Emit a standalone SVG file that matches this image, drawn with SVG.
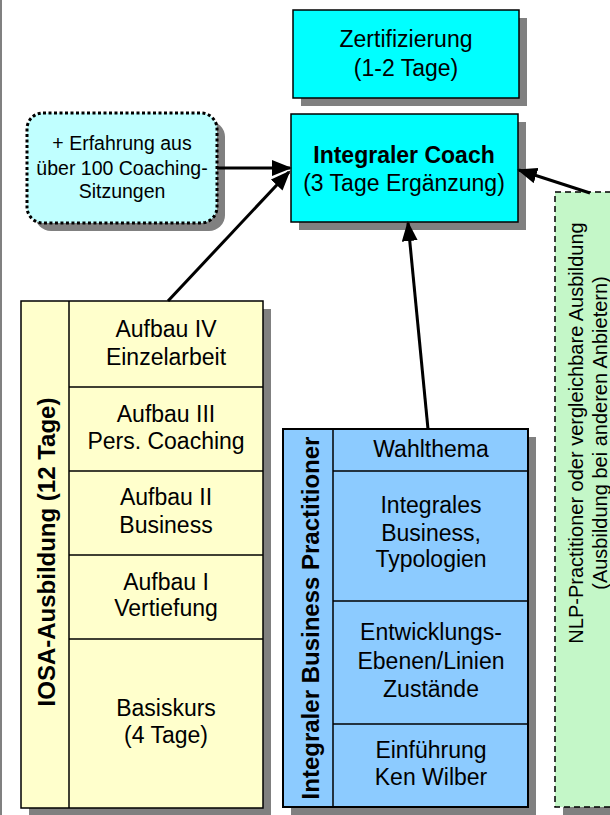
<svg xmlns="http://www.w3.org/2000/svg" width="610" height="815" viewBox="0 0 610 815">
<style>
text{font-family:"Liberation Sans",Arial,sans-serif;font-size:23px;fill:#000;text-anchor:middle}
.b{font-weight:bold}
.v{font-size:24px}
.sm{font-size:19.5px}
.nl{font-size:20px}
.sh{fill:#808080}
.cy{fill:#00FFFF;stroke:#000;stroke-width:1.5}
.ye{fill:#FFFFCC;stroke:#000;stroke-width:1.5}
.bl{fill:#8CCBFF;stroke:#000;stroke-width:2}
.ln{stroke:#000;stroke-width:1.5;fill:none}
.con{stroke:#000;stroke-width:3;fill:none;marker-end:url(#ah)}
</style>
<defs>
<marker id="ah" markerUnits="userSpaceOnUse" markerWidth="20" markerHeight="16" refX="18" refY="8" orient="auto" viewBox="0 0 20 16">
<path d="M0,0 L20,8 L0,16 z" fill="#000"/>
</marker>
</defs>
<rect x="0" y="0" width="610" height="815" fill="#fff"/>
<line x1="1" y1="0" x2="1" y2="815" stroke="#808080" stroke-width="2"/>

<g id="zertifizierung">
<rect class="sh" x="301" y="18" width="226" height="88"/>
<rect class="cy" x="293" y="10" width="226" height="88"/>
<text x="406" y="47">Zertifizierung</text>
<text x="406" y="76">(1-2 Tage)</text>
</g>

<g id="coach">
<rect class="sh" x="299" y="122" width="227" height="108"/>
<rect class="cy" x="291" y="114" width="227" height="108"/>
<text class="b" x="404" y="163">Integraler Coach</text>
<text x="404" y="191">(3 Tage Ergänzung)</text>
</g>

<g id="erfahrung">
<rect class="sh" x="35" y="121" width="190" height="110" rx="16"/>
<rect x="27" y="113" width="190" height="110" rx="16" fill="#C0FFFF" stroke="#000" stroke-width="3" stroke-dasharray="3,2.5"/>
<text class="sm" x="122" y="150">+ Erfahrung aus</text>
<text class="sm" x="122" y="175">über 100 Coaching-</text>
<text class="sm" x="122" y="198">Sitzungen</text>
</g>

<g id="iosa">
<rect class="sh" x="29" y="309" width="242" height="507"/>
<rect class="ye" x="21" y="301" width="242" height="507"/>
<line class="ln" x1="69" y1="301" x2="69" y2="808"/>
<line class="ln" x1="69" y1="387" x2="263" y2="387"/>
<line class="ln" x1="69" y1="471" x2="263" y2="471"/>
<line class="ln" x1="69" y1="555" x2="263" y2="555"/>
<line class="ln" x1="69" y1="639" x2="263" y2="639"/>
<text class="b v" transform="translate(55,552) rotate(-90)">IOSA-Ausbildung (12 Tage)</text>
<text x="166" y="337">Aufbau IV</text>
<text x="166" y="365">Einzelarbeit</text>
<text x="166" y="422">Aufbau III</text>
<text x="166" y="449">Pers. Coaching</text>
<text x="166" y="505">Aufbau II</text>
<text x="166" y="533">Business</text>
<text x="166" y="590">Aufbau I</text>
<text x="166" y="616">Vertiefung</text>
<text x="166" y="716">Basiskurs</text>
<text x="166" y="743">(4 Tage)</text>
</g>

<g id="ibp">
<rect class="sh" x="291" y="437" width="245" height="378"/>
<rect class="bl" x="283" y="429" width="245" height="378"/>
<line class="ln" x1="333" y1="429" x2="333" y2="807"/>
<line class="ln" x1="333" y1="471" x2="528" y2="471"/>
<line class="ln" x1="333" y1="601" x2="528" y2="601" stroke-width="2.5"/>
<line class="ln" x1="333" y1="724" x2="528" y2="724"/>
<text class="b v" transform="translate(319,618) rotate(-90)">Integraler Business Practitioner</text>
<text x="431" y="457">Wahlthema</text>
<text x="431" y="513">Integrales</text>
<text x="431" y="541">Business,</text>
<text x="431" y="567">Typologien</text>
<text x="431" y="640">Entwicklungs-</text>
<text x="431" y="669">Ebenen/Linien</text>
<text x="431" y="697">Zustände</text>
<text x="431" y="758">Einführung</text>
<text x="431" y="785">Ken Wilber</text>
</g>

<g id="nlp">
<rect class="sh" x="563" y="200" width="60" height="620"/>
<rect x="555" y="192" width="70" height="615" fill="#C4F7C8" stroke="#000" stroke-width="1.5" stroke-dasharray="6,4"/>
<text class="nl" transform="translate(583,433) rotate(-90)">NLP-Practitioner oder vergleichbare Ausbildung</text>
<text class="nl" transform="translate(607,433) rotate(-90)">(Ausbildung bei anderen Anbietern)</text>
</g>

<g id="connectors">
<line class="con" x1="217" y1="168" x2="290" y2="168"/>
<line class="con" x1="168" y1="301" x2="289" y2="172"/>
<line class="con" x1="428" y1="429" x2="408" y2="223"/>
<line class="con" x1="590" y1="193" x2="519" y2="170"/>
</g>
</svg>
